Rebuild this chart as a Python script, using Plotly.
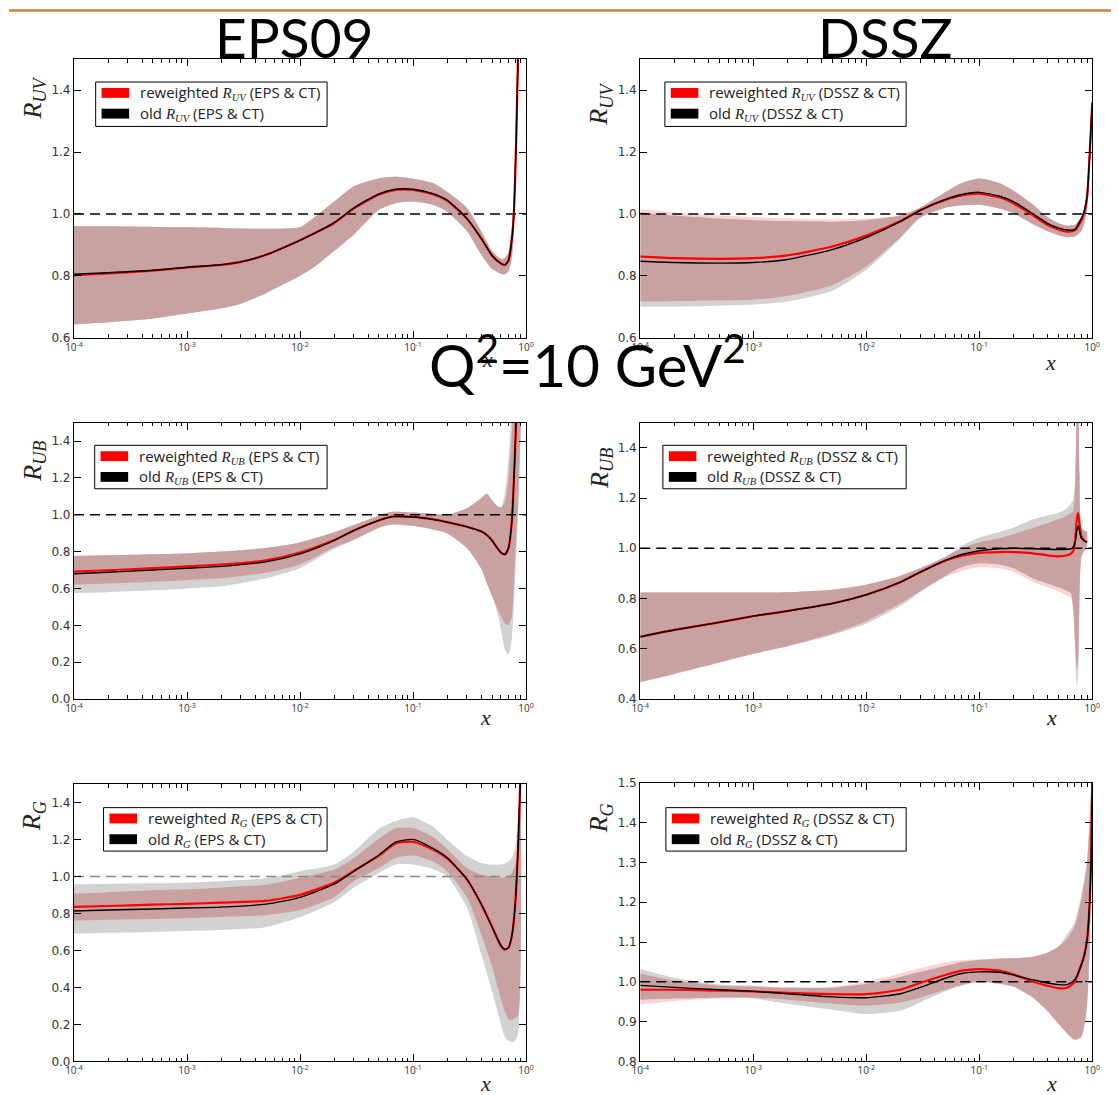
import numpy as np
import plotly.graph_objects as go

W, H = 1119, 1095

# ---------------- nuclear modification ratios at Q^2 = 10 GeV^2 ----------------
# EPS09, valence (R_UV)
eps_uv_x = [1e-4, 2e-4, 5e-4, 1e-3, 2e-3, 3e-3, 5e-3, 1e-2, 1.3e-2, 2e-2, 3e-2, 5e-2, 7e-2,
            0.1, 0.15, 0.2, 0.3, 0.4, 0.5, 0.6, 0.65, 0.7, 0.75, 0.78, 0.82, 0.86]
eps_uv_old = [0.805, 0.81, 0.818, 0.828, 0.836, 0.845, 0.868, 0.915, 0.935, 0.972, 1.02, 1.065, 1.08,
              1.08, 1.066, 1.045, 0.985, 0.922, 0.866, 0.84, 0.835, 0.85, 0.92, 1.0, 1.25, 1.6]
eps_uv_new = [0.802, 0.808, 0.817, 0.827, 0.835, 0.845, 0.868, 0.915, 0.935, 0.97, 1.018, 1.063, 1.078,
              1.078, 1.064, 1.043, 0.985, 0.922, 0.866, 0.84, 0.835, 0.85, 0.92, 1.0, 1.25, 1.6]
eps_uv_old_hi = [0.96, 0.96, 0.958, 0.957, 0.955, 0.953, 0.952, 0.957, 0.985, 1.04, 1.09, 1.115, 1.12,
                 1.114, 1.1, 1.072, 1.02, 0.945, 0.88, 0.855, 0.858, 0.875, 0.96, 1.05, 1.35, 1.7]
eps_uv_old_lo = [0.643, 0.65, 0.662, 0.678, 0.695, 0.71, 0.744, 0.80, 0.825, 0.88, 0.934, 1.014, 1.035,
                 1.04, 1.03, 1.008, 0.945, 0.87, 0.823, 0.807, 0.805, 0.815, 0.86, 0.95, 1.2, 1.5]
eps_uv_new_hi = [0.96, 0.96, 0.958, 0.957, 0.955, 0.953, 0.952, 0.957, 0.985, 1.04, 1.09, 1.115, 1.12,
                 1.114, 1.1, 1.072, 1.02, 0.945, 0.88, 0.855, 0.858, 0.875, 0.96, 1.05, 1.35, 1.7]
eps_uv_new_lo = [0.643, 0.65, 0.662, 0.678, 0.695, 0.71, 0.744, 0.80, 0.825, 0.88, 0.934, 1.014, 1.035,
                 1.04, 1.03, 1.008, 0.945, 0.87, 0.823, 0.807, 0.805, 0.815, 0.86, 0.95, 1.2, 1.5]

# DSSZ, valence (R_UV)
dssz_uv_x = [1e-4, 2e-4, 5e-4, 1e-3, 2e-3, 5e-3, 1e-2, 2e-2, 3e-2, 5e-2, 7e-2, 0.1, 0.15,
             0.2, 0.3, 0.4, 0.5, 0.6, 0.7, 0.8, 0.85, 0.9, 0.95, 0.98, 1.0]
dssz_uv_old = [0.847, 0.843, 0.841, 0.843, 0.853, 0.885, 0.924, 0.975, 1.012, 1.047, 1.063, 1.07, 1.058,
               1.04, 1.0, 0.97, 0.955, 0.948, 0.95, 0.985, 1.01, 1.06, 1.2, 1.3, 1.36]
dssz_uv_new = [0.862, 0.857, 0.855, 0.857, 0.866, 0.895, 0.93, 0.977, 1.012, 1.045, 1.06, 1.066, 1.054,
               1.035, 0.995, 0.965, 0.95, 0.943, 0.947, 0.98, 1.005, 1.055, 1.2, 1.3, 1.36]
dssz_uv_old_hi = [1.005, 0.995, 0.985, 0.98, 0.977, 0.975, 0.98, 0.995, 1.02, 1.07, 1.1, 1.115, 1.1,
                  1.076, 1.03, 0.99, 0.97, 0.962, 0.965, 0.99, 1.02, 1.07, 1.22, 1.32, 1.4]
dssz_uv_old_lo = [0.70, 0.70, 0.703, 0.707, 0.717, 0.752, 0.82, 0.92, 0.988, 1.02, 1.028, 1.03, 1.018,
                  1.003, 0.967, 0.945, 0.932, 0.925, 0.927, 0.945, 0.97, 1.02, 1.15, 1.25, 1.3]
dssz_uv_new_hi = [1.015, 1.005, 0.995, 0.99, 0.985, 0.982, 0.985, 0.995, 1.02, 1.07, 1.1, 1.115, 1.1,
                  1.076, 1.03, 0.99, 0.97, 0.962, 0.965, 0.99, 1.02, 1.07, 1.22, 1.32, 1.4]
dssz_uv_new_lo = [0.717, 0.718, 0.72, 0.723, 0.735, 0.77, 0.83, 0.925, 0.988, 1.02, 1.028, 1.03, 1.018,
                  1.003, 0.967, 0.945, 0.932, 0.925, 0.927, 0.945, 0.97, 1.02, 1.15, 1.25, 1.3]

# EPS09, sea (R_UB)
eps_ub_x = [1e-4, 2e-4, 5e-4, 1e-3, 2e-3, 5e-3, 1e-2, 2e-2, 3e-2, 5e-2, 6.5e-2, 0.1, 0.15,
            0.2, 0.3, 0.4, 0.45, 0.5, 0.55, 0.6, 0.65, 0.7, 0.75, 0.8, 0.85, 0.9]
eps_ub_old = [0.68, 0.688, 0.70, 0.71, 0.72, 0.745, 0.788, 0.86, 0.915, 0.97, 0.99, 0.988, 0.975,
              0.96, 0.935, 0.91, 0.89, 0.86, 0.825, 0.795, 0.785, 0.82, 0.97, 1.35, 1.8, 2.0]
eps_ub_new = [0.692, 0.699, 0.71, 0.72, 0.73, 0.753, 0.795, 0.863, 0.915, 0.97, 0.99, 0.988, 0.975,
              0.96, 0.935, 0.91, 0.89, 0.86, 0.825, 0.795, 0.785, 0.82, 0.97, 1.35, 1.8, 2.0]
eps_ub_old_hi = [0.776, 0.78, 0.786, 0.79, 0.80, 0.82, 0.85, 0.905, 0.945, 0.995, 1.016, 1.012, 1.005,
                 1.0, 1.035, 1.09, 1.114, 1.08, 1.05, 1.04, 1.12, 1.3, 1.6, 1.9, 2.0, 2.0]
eps_ub_old_lo = [0.575, 0.58, 0.59, 0.60, 0.612, 0.655, 0.71, 0.815, 0.865, 0.93, 0.947, 0.94, 0.92,
                 0.9, 0.82, 0.71, 0.63, 0.56, 0.48, 0.38, 0.27, 0.24, 0.33, 0.65, 1.0, 1.5]
eps_ub_new_hi = [0.776, 0.78, 0.786, 0.79, 0.80, 0.82, 0.85, 0.905, 0.945, 0.995, 1.016, 1.012, 1.005,
                 1.0, 1.035, 1.09, 1.114, 1.08, 1.05, 1.04, 1.07, 1.2, 1.45, 1.8, 2.0, 2.0]
eps_ub_new_lo = [0.62, 0.627, 0.637, 0.645, 0.655, 0.685, 0.73, 0.822, 0.865, 0.93, 0.947, 0.94, 0.92,
                 0.9, 0.82, 0.71, 0.63, 0.56, 0.5, 0.45, 0.41, 0.40, 0.45, 0.75, 1.05, 1.5]

# DSSZ, sea (R_UB)
dssz_ub_x = [1e-4, 2e-4, 5e-4, 1e-3, 2e-3, 5e-3, 1e-2, 2e-2, 3e-2, 5e-2, 7e-2, 0.1, 0.15,
             0.2, 0.3, 0.4, 0.5, 0.6, 0.65, 0.68, 0.71, 0.73, 0.75, 0.77, 0.8, 0.85, 0.9]
dssz_ub_old = [0.648, 0.675, 0.705, 0.73, 0.75, 0.78, 0.815, 0.865, 0.905, 0.952, 0.975, 0.99, 0.998,
               1.0, 0.998, 0.996, 0.995, 0.996, 0.998, 1.005, 1.03, 1.07, 1.09, 1.07, 1.04, 1.03, 1.025]
dssz_ub_new = [0.648, 0.675, 0.705, 0.73, 0.75, 0.78, 0.815, 0.865, 0.905, 0.95, 0.97, 0.982, 0.985,
               0.985, 0.98, 0.972, 0.968, 0.972, 0.98, 0.99, 1.05, 1.12, 1.14, 1.1, 1.05, 1.03, 1.025]
dssz_ub_old_hi = [0.824, 0.824, 0.824, 0.824, 0.825, 0.835, 0.855, 0.89, 0.92, 0.965, 1.01, 1.043, 1.065,
                  1.082, 1.115, 1.13, 1.14, 1.16, 1.18, 1.2, 1.3, 1.55, 1.6, 1.3, 1.08, 1.07, 1.065]
dssz_ub_old_lo = [0.468, 0.5, 0.545, 0.58, 0.61, 0.655, 0.70, 0.77, 0.825, 0.89, 0.925, 0.94, 0.935,
                  0.92, 0.88, 0.86, 0.845, 0.83, 0.82, 0.75, 0.55, 0.45, 0.5, 0.8, 0.965, 0.99, 1.0]
dssz_ub_new_hi = [0.824, 0.824, 0.824, 0.824, 0.825, 0.835, 0.855, 0.89, 0.92, 0.965, 1.0, 1.024, 1.04,
                  1.056, 1.082, 1.1, 1.115, 1.13, 1.14, 1.15, 1.3, 1.55, 1.6, 1.3, 1.08, 1.07, 1.065]
dssz_ub_new_lo = [0.468, 0.5, 0.545, 0.58, 0.61, 0.66, 0.71, 0.78, 0.83, 0.886, 0.91, 0.925, 0.92,
                  0.906, 0.866, 0.845, 0.83, 0.81, 0.8, 0.75, 0.6, 0.52, 0.55, 0.8, 0.965, 0.99, 1.0]

# EPS09, gluon (R_G)
eps_g_x = [1e-4, 2e-4, 5e-4, 1e-3, 2e-3, 5e-3, 1e-2, 2e-2, 3e-2, 5e-2, 7e-2, 0.1, 0.15,
           0.2, 0.3, 0.4, 0.5, 0.6, 0.65, 0.7, 0.75, 0.8, 0.85, 0.9]
eps_g_old = [0.813, 0.818, 0.824, 0.829, 0.834, 0.85, 0.887, 0.958, 1.028, 1.116, 1.185, 1.2, 1.152,
             1.102, 0.984, 0.852, 0.728, 0.625, 0.605, 0.615, 0.68, 0.84, 1.15, 1.6]
eps_g_new = [0.835, 0.84, 0.847, 0.852, 0.858, 0.868, 0.9, 0.966, 1.03, 1.112, 1.178, 1.187, 1.145,
             1.098, 0.984, 0.852, 0.728, 0.625, 0.605, 0.615, 0.68, 0.84, 1.15, 1.6]
eps_g_old_hi = [0.957, 0.96, 0.963, 0.966, 0.975, 0.99, 1.028, 1.064, 1.135, 1.258, 1.3, 1.32, 1.27,
                1.2, 1.11, 1.073, 1.064, 1.064, 1.07, 1.08, 1.1, 1.15, 1.31, 1.8]
eps_g_old_lo = [0.69, 0.695, 0.70, 0.705, 0.71, 0.725, 0.78, 0.86, 0.94, 1.02, 1.064, 1.064, 1.04,
                1.0, 0.833, 0.584, 0.38, 0.2, 0.13, 0.11, 0.105, 0.11, 0.15, 1.6]
eps_g_new_hi = [0.908, 0.915, 0.925, 0.93, 0.94, 0.955, 0.993, 1.037, 1.1, 1.205, 1.26, 1.262, 1.214,
                1.15, 1.046, 1.01, 1.0, 0.993, 0.995, 1.0, 1.02, 1.06, 1.22, 1.7]
eps_g_new_lo = [0.76, 0.765, 0.77, 0.774, 0.78, 0.79, 0.818, 0.887, 0.975, 1.046, 1.1, 1.113, 1.08,
                1.028, 0.887, 0.69, 0.513, 0.336, 0.27, 0.226, 0.226, 0.235, 0.25, 1.6]

# DSSZ, gluon (R_G)
dssz_g_x = [1e-4, 2e-4, 5e-4, 1e-3, 2e-3, 5e-3, 1e-2, 2e-2, 3e-2, 5e-2, 7e-2, 0.1, 0.15,
            0.2, 0.3, 0.4, 0.5, 0.6, 0.7, 0.8, 0.85, 0.9, 0.95, 0.98, 1.0]
dssz_g_old = [0.991, 0.986, 0.98, 0.976, 0.97, 0.962, 0.96, 0.97, 0.986, 1.009, 1.021, 1.025, 1.024,
              1.017, 1.005, 0.997, 0.993, 0.993, 1.005, 1.042, 1.066, 1.107, 1.206, 1.33, 1.5]
dssz_g_new = [0.98, 0.98, 0.978, 0.976, 0.972, 0.969, 0.969, 0.98, 0.997, 1.017, 1.028, 1.032, 1.028,
              1.019, 1.0, 0.99, 0.984, 0.985, 1.0, 1.044, 1.068, 1.107, 1.206, 1.33, 1.5]
dssz_g_old_hi = [1.032, 1.01, 0.993, 0.99, 0.986, 0.985, 0.995, 1.012, 1.025, 1.04, 1.05, 1.055, 1.058,
                 1.059, 1.063, 1.073, 1.088, 1.12, 1.15, 1.22, 1.26, 1.31, 1.41, 1.5, 1.6]
dssz_g_old_lo = [0.955, 0.958, 0.96, 0.958, 0.945, 0.93, 0.919, 0.927, 0.948, 0.976, 0.99, 1.0, 0.995,
                 0.988, 0.96, 0.927, 0.895, 0.87, 0.854, 0.862, 0.89, 0.943, 1.083, 1.3, 1.5]
dssz_g_new_hi = [1.021, 1.003, 0.99, 0.988, 0.985, 0.987, 1.0, 1.021, 1.034, 1.049, 1.055, 1.057, 1.058,
                 1.059, 1.063, 1.073, 1.088, 1.108, 1.14, 1.207, 1.25, 1.298, 1.41, 1.5, 1.6]
dssz_g_new_lo = [0.943, 0.952, 0.958, 0.96, 0.955, 0.945, 0.94, 0.948, 0.96, 0.98, 0.992, 1.0, 0.995,
                 0.988, 0.96, 0.927, 0.895, 0.87, 0.854, 0.862, 0.89, 0.943, 1.083, 1.3, 1.5]

# axis ticks
x_tickvals = [1e-4, 1e-3, 1e-2, 1e-1, 1.0]
x_ticktext = ["10<sup>-4</sup>", "10<sup>-3</sup>", "10<sup>-2</sup>", "10<sup>-1</sup>", "10<sup>0</sup>"]
uv_yticks = [0.6, 0.8, 1.0, 1.2, 1.4]
eps_ub_yticks = [0.0, 0.2, 0.4, 0.6, 0.8, 1.0, 1.2, 1.4]
dssz_ub_yticks = [0.4, 0.6, 0.8, 1.0, 1.2, 1.4]
eps_g_yticks = [0.0, 0.2, 0.4, 0.6, 0.8, 1.0, 1.2, 1.4]
dssz_g_yticks = [0.8, 0.9, 1.0, 1.1, 1.2, 1.3, 1.4, 1.5]

# ---------------- styling ----------------
GRAY = "#d2d2d2"
PINK = "#fbd3d3"
ROSE = "#c9a1a1"
SERIF = "Liberation Serif"
SANS = "Open Sans"


def sym(name):
    return ("<span style='font-family:%s'><i>R</i><sub><i>%s</i></sub></span>" % (SERIF, name))


panels = [
    dict(x=eps_uv_x, old=eps_uv_old, new=eps_uv_new, olo=eps_uv_old_lo, ohi=eps_uv_old_hi,
         nlo=eps_uv_new_lo, nhi=eps_uv_new_hi, yr=[0.6, 1.5], yt=uv_yticks,
         box=(66, 525, 53, 335), sub="UV", src="EPS", leg=(88, 323, 76, 121),
         ylab=(25, 92), xlab=(486, 357), dash="black"),
    dict(x=dssz_uv_x, old=dssz_uv_old, new=dssz_uv_new, olo=dssz_uv_old_lo, ohi=dssz_uv_old_hi,
         nlo=dssz_uv_new_lo, nhi=dssz_uv_new_hi, yr=[0.6, 1.5], yt=uv_yticks,
         box=(641, 1100, 53, 335), sub="UV", src="DSSZ", leg=(666, 911, 76, 121),
         ylab=(600, 98), xlab=(1058, 360), dash="black"),
    dict(x=eps_ub_x, old=eps_ub_old, new=eps_ub_new, olo=eps_ub_old_lo, ohi=eps_ub_old_hi,
         nlo=eps_ub_new_lo, nhi=eps_ub_new_hi, yr=[0.0, 1.5], yt=eps_ub_yticks,
         box=(66, 525, 421, 701), sub="UB", src="EPS", leg=(87, 323, 444, 488),
         ylab=(25, 460), xlab=(484, 720), dash="black"),
    dict(x=dssz_ub_x, old=dssz_ub_old, new=dssz_ub_new, olo=dssz_ub_old_lo, ohi=dssz_ub_old_hi,
         nlo=dssz_ub_new_lo, nhi=dssz_ub_new_hi, yr=[0.4, 1.5], yt=dssz_ub_yticks,
         box=(641, 1100, 421, 701), sub="UB", src="DSSZ", leg=(664, 911, 444, 488),
         ylab=(601, 467), xlab=(1059, 720), dash="black"),
    dict(x=eps_g_x, old=eps_g_old, new=eps_g_new, olo=eps_g_old_lo, ohi=eps_g_old_hi,
         nlo=eps_g_new_lo, nhi=eps_g_new_hi, yr=[0.0, 1.5], yt=eps_g_yticks,
         box=(66, 525, 787, 1068), sub="G", src="EPS", leg=(96, 323, 811, 855),
         ylab=(24, 820), xlab=(484, 1090), dash="#888888"),
    dict(x=dssz_g_x, old=dssz_g_old, new=dssz_g_new, olo=dssz_g_old_lo, ohi=dssz_g_old_hi,
         nlo=dssz_g_new_lo, nhi=dssz_g_new_hi, yr=[0.8, 1.5], yt=dssz_g_yticks,
         box=(641, 1100, 786, 1068), sub="G", src="DSSZ", leg=(667, 911, 811, 855),
         ylab=(601, 822), xlab=(1059, 1090), dash="black"),
]


def fx(p):
    return p / W


def fy(p):
    return 1 - p / H


fig = go.Figure()
shapes = []
annotations = []
minor_vals = [m * 10.0 ** e for e in range(-4, 0) for m in range(2, 10)]

LINE = dict(shape="spline", smoothing=0.6)

for i, p in enumerate(panels, start=1):
    xa, ya = "x%d" % i, "y%d" % i
    x = np.array(p["x"])
    olo, ohi = np.array(p["olo"]), np.array(p["ohi"])
    nlo, nhi = np.array(p["nlo"]), np.array(p["nhi"])
    # overlap of the two uncertainty bands
    ilo = np.maximum(olo, nlo)
    ihi = np.maximum(np.minimum(ohi, nhi), ilo)

    for lo, hi, col in ((olo, ohi, GRAY), (nlo, nhi, PINK), (ilo, ihi, ROSE)):
        fig.add_trace(go.Scatter(x=x, y=lo, mode="lines", line=dict(width=0, **LINE),
                                 xaxis=xa, yaxis=ya, hoverinfo="skip"))
        fig.add_trace(go.Scatter(x=x, y=hi, mode="lines", line=dict(width=0, **LINE),
                                 fill="tonexty", fillcolor=col, xaxis=xa, yaxis=ya,
                                 hoverinfo="skip"))

    fig.add_trace(go.Scatter(x=[1e-4, 1.0], y=[1.0, 1.0], mode="lines",
                             line=dict(color=p["dash"], width=1.5, dash="10px,6px"),
                             xaxis=xa, yaxis=ya))
    fig.add_trace(go.Scatter(x=x, y=p["new"], mode="lines",
                             line=dict(color="#ff0000", width=2.2, **LINE), xaxis=xa, yaxis=ya))
    fig.add_trace(go.Scatter(x=x, y=p["old"], mode="lines",
                             line=dict(color="#000000", width=1.4, **LINE), xaxis=xa, yaxis=ya))

    x0, x1, y0, y1 = p["box"]
    axis_common = dict(showline=True, linecolor="black", linewidth=1.2, mirror="ticks",
                       ticks="inside", ticklen=7, tickwidth=1, tickcolor="black",
                       showgrid=False, zeroline=False)
    fig.layout["xaxis%d" % i] = dict(
        type="log", range=[-4, 0], domain=[fx(x0), fx(x1)], anchor=ya,
        tickmode="array", tickvals=x_tickvals, ticktext=x_ticktext,
        tickfont=dict(family=SANS, size=10, color="#333333"),
        minor=dict(tickmode="array", tickvals=minor_vals, ticks="inside", ticklen=3.5,
                   tickwidth=1, tickcolor="black", showgrid=False),
        **axis_common)
    fig.layout["yaxis%d" % i] = dict(
        range=p["yr"], domain=[fy(y1), fy(y0)], anchor=xa,
        tickmode="array", tickvals=p["yt"], tickformat=".1f",
        tickfont=dict(family="DejaVu Sans", size=12, color="#333333"),
        **axis_common)

    # legend frame, swatches and entries
    lx0, lx1, ly0, ly1 = p["leg"]
    shapes.append(dict(type="rect", xref="paper", yref="paper", x0=fx(lx0), x1=fx(lx1),
                       y0=fy(ly1), y1=fy(ly0), line=dict(color="black", width=1),
                       fillcolor="white", layer="above"))
    for k, (col, word) in enumerate((("#ff0000", "reweighted"), ("#000000", "old"))):
        cy = ly0 + 11 + 21 * k
        shapes.append(dict(type="rect", xref="paper", yref="paper", x0=fx(lx0 + 6),
                           x1=fx(lx0 + 34), y0=fy(cy + 5), y1=fy(cy - 5),
                           line=dict(width=0), fillcolor=col, layer="above"))
        annotations.append(dict(
            xref="paper", yref="paper", x=fx(lx0 + 43), y=fy(cy), xanchor="left", yanchor="middle",
            text="%s %s (%s &amp; CT)" % (word, sym(p["sub"]), p["src"]), showarrow=False,
            font=dict(family=SANS, size=15, color="#222222")))

    # y-axis symbol and x label
    annotations.append(dict(xref="paper", yref="paper", x=fx(p["ylab"][0]), y=fy(p["ylab"][1]),
                            xanchor="center", yanchor="middle", textangle=-90, showarrow=False,
                            text="<i>R</i><sub><i>%s</i></sub>" % p["sub"],
                            font=dict(family=SERIF, size=26, color="#222222")))
    annotations.append(dict(xref="paper", yref="paper", x=fx(p["xlab"][0]), y=fy(p["xlab"][1]),
                            xanchor="center", yanchor="middle", showarrow=False, text="<i>x</i>",
                            font=dict(family=SERIF, size=22, color="#222222")))

# headings
annotations.append(dict(xref="paper", yref="paper", x=fx(289), y=fy(30), xanchor="center",
                        yanchor="middle", showarrow=False, text="EPS09",
                        font=dict(family="Lato", size=55, color="black")))
annotations.append(dict(xref="paper", yref="paper", x=fx(890), y=fy(30), xanchor="center",
                        yanchor="middle", showarrow=False, text="DSSZ",
                        font=dict(family="Lato", size=55, color="black")))
annotations.append(dict(xref="paper", yref="paper", x=fx(587), y=fy(359), xanchor="center",
                        yanchor="middle", showarrow=False,
                        text="Q<sup>2</sup>=10 GeV<sup>2</sup>",
                        font=dict(family="Lato", size=58, color="black")))

# rule across the top of the page
shapes.append(dict(type="line", xref="paper", yref="paper", x0=0, x1=1, y0=fy(3.5), y1=fy(3.5),
                   line=dict(color="#c8843a", width=2.5)))

fig.update_layout(width=W, height=H, margin=dict(l=0, r=0, t=0, b=0),
                  paper_bgcolor="white", plot_bgcolor="white", showlegend=False,
                  shapes=shapes, annotations=annotations)

fig.write_html("out.html")
